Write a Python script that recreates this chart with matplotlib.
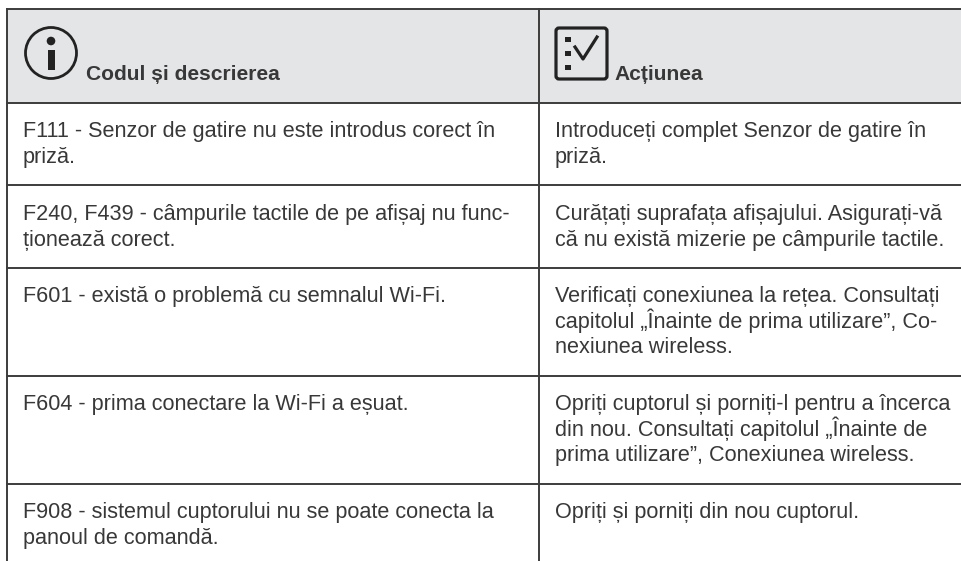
import matplotlib.pyplot as plt
from matplotlib.patches import Circle, FancyBboxPatch, Rectangle

plt.rcParams['font.family'] = ['Liberation Sans', 'DejaVu Sans']

headers = ["Codul și descrierea", "Acțiunea"]
left_cells = [
    "F111 - Senzor de gatire nu este introdus corect în\npriză.",
    "F240, F439 - câmpurile tactile de pe afișaj nu func-\nționează corect.",
    "F601 - există o problemă cu semnalul Wi-Fi.",
    "F604 - prima conectare la Wi-Fi a eșuat.",
    "F908 - sistemul cuptorului nu se poate conecta la\npanoul de comandă.",
]
right_cells = [
    "Introduceți complet Senzor de gatire în\npriză.",
    "Curățați suprafața afișajului. Asigurați-vă\ncă nu există mizerie pe câmpurile tactile.",
    "Verificați conexiunea la rețea. Consultați\ncapitolul „Înainte de prima utilizare”, Co-\nnexiunea wireless.",
    "Opriți cuptorul și porniți-l pentru a încerca\ndin nou. Consultați capitolul „Înainte de\nprima utilizare”, Conexiunea wireless.",
    "Opriți și porniți din nou cuptorul.",
]
row_lines = [103, 185, 268, 376, 484]
baselines = [137, 220, 302, 410, 518]
line_step = 25.7

line_col = '#3c3c3c'
icon_col = '#222222'
text_col = '#383838'

fig = plt.figure(figsize=(9.61, 5.61), dpi=100)
ax = fig.add_axes([0, 0, 1, 1])
ax.set_xlim(0, 961)
ax.set_ylim(561, 0)
ax.axis('off')

# header band
ax.add_patch(Rectangle((7, 9), 954, 94, color='#e4e5e7', lw=0))

# table lines
ax.plot([7, 961], [9, 9], color=line_col, lw=1.4)
for y in row_lines:
    ax.plot([7, 961], [y, y], color=line_col, lw=1.4)
ax.plot([7, 7], [9, 561], color=line_col, lw=1.4)
ax.plot([538.5, 538.5], [9, 561], color=line_col, lw=1.4)

# info icon
ax.add_patch(Circle((51, 53), 25.5, fill=False, ec=icon_col, lw=2))
ax.add_patch(Circle((51, 41), 4.3, color=icon_col, lw=0))
ax.add_patch(Rectangle((47.5, 50), 7.5, 20, color=icon_col, lw=0))

# checklist icon
ax.add_patch(FancyBboxPatch((556, 28), 51, 51, boxstyle='round,pad=0,rounding_size=3',
                            fill=False, ec=icon_col, lw=2.3))
for y in [39.5, 53.5, 67.5]:
    ax.add_patch(Rectangle((565, y - 2.5), 6, 5, color=icon_col, lw=0))
ax.plot([575, 583, 597], [47, 59, 37], color=icon_col, lw=2.3)

ax.text(86, 80, headers[0], fontsize=15.1, fontweight='bold', color=text_col, va='baseline')
ax.text(614, 80, headers[1], fontsize=15.1, fontweight='bold', color=text_col, va='baseline')

# one text per line so the row pitch stays even
for x, cells in [(23, left_cells), (555, right_cells)]:
    for cell, y in zip(cells, baselines):
        for i, part in enumerate(cell.split('\n')):
            ax.text(x, y + i * line_step, part, fontsize=15.6, color=text_col, va='baseline')

fig.savefig('out.png', dpi=100)
